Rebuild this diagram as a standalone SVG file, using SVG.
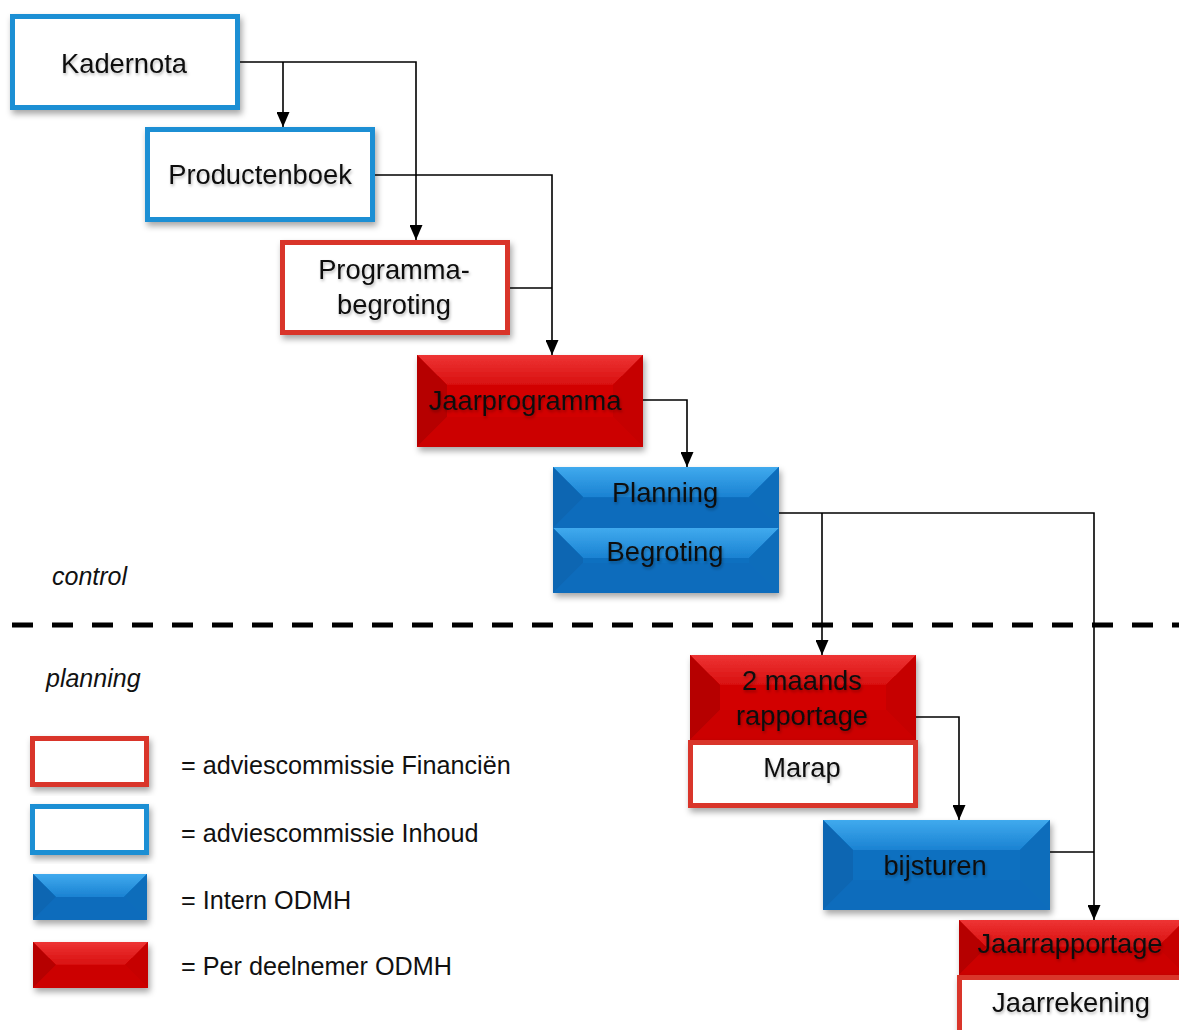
<svg xmlns="http://www.w3.org/2000/svg" width="1179" height="1030" viewBox="0 0 1179 1030">
<defs>
<style>
text{font-family:"Liberation Sans",Arial,sans-serif;fill:#111;}
.t{font-size:27.3px;text-anchor:middle;filter:url(#ts);}
.leg{font-size:25.2px;}
.it{font-size:25px;font-style:italic;}
.ob{fill:#fff;stroke:#1b8fd4;stroke-width:5;}
.or{fill:#fff;stroke:#d9352b;stroke-width:5;}
.bf{fill:#0a6fc0;} .bt{fill:url(#gbt);} .bl{fill:#0966b2;} .br{fill:#0b6dbb;} .bb{fill:#0a6cbc;}
.rf{fill:#d20000;} .rt{fill:url(#grt);} .rl{fill:#b60000;} .rr{fill:#c60000;} .rb{fill:#cc0000;}
.c{fill:none;stroke:#000;stroke-width:1.6;}
.ca{fill:none;stroke:#000;stroke-width:1.6;marker-end:url(#ah);}
.sh{filter:url(#ds);}
</style>
<linearGradient id="gbt" x1="0" y1="0" x2="0" y2="1"><stop offset="0" stop-color="#40aaee"/><stop offset="1" stop-color="#1a82d2"/></linearGradient>
<linearGradient id="grt" x1="0" y1="0" x2="0" y2="1"><stop offset="0" stop-color="#ee3434"/><stop offset="1" stop-color="#d81010"/></linearGradient>
<filter id="ds" x="-10%" y="-10%" width="125%" height="135%"><feDropShadow dx="2" dy="4" stdDeviation="3" flood-color="#000" flood-opacity="0.35"/></filter>
<filter id="ts" x="-10%" y="-20%" width="125%" height="160%"><feDropShadow dx="1" dy="2" stdDeviation="1.5" flood-color="#000" flood-opacity="0.28"/></filter>
<marker id="ah" markerUnits="userSpaceOnUse" markerWidth="15" markerHeight="13" refX="15" refY="6.5" orient="auto"><path d="M0,0 L15,6.5 L0,13 z" fill="#000"/></marker>
</defs>
<rect width="1179" height="1030" fill="#fff"/>

<g id="connectors">
<path class="ca" d="M240,62 H416 V240"/>
<path class="ca" d="M283,62 V127"/>
<path class="ca" d="M375,175 H552 V355"/>
<path class="c" d="M510,288 H552"/>
<path class="ca" d="M643,400 H687 V467"/>
<path class="ca" d="M779,513 H1094 V920"/>
<path class="ca" d="M822,513 V655"/>
<path class="ca" d="M916,717 H959 V820"/>
<path class="c" d="M1050,852 H1094"/>
</g>

<g id="divider">
<line x1="12" y1="625" x2="1179" y2="625" stroke="#000" stroke-width="5" stroke-dasharray="21 19"/>
<text class="it" x="52" y="585">control</text>
<text class="it" x="46" y="687">planning</text>
</g>

<g id="kadernota">
<rect class="ob sh" x="12.5" y="16.5" width="225" height="91"/>
<text class="t" x="124" y="73">Kadernota</text>
</g>

<g id="productenboek">
<rect class="ob sh" x="147.5" y="129.5" width="225" height="90"/>
<text class="t" x="260" y="184">Productenboek</text>
</g>

<g id="programmabegroting">
<rect class="or sh" x="282.5" y="242.5" width="225" height="90"/>
<text class="t" x="394" y="279">Programma-</text>
<text class="t" x="394" y="314">begroting</text>
</g>

<g id="jaarprogramma">
<g class="sh">
<rect class="rf" x="417" y="355" width="226" height="92"/>
<polygon class="rt" points="417,355 643,355 613,385 447,385"/>
<polygon class="rl" points="417,355 447,385 447,417 417,447"/>
<polygon class="rr" points="643,355 643,447 613,417 613,385"/>
<polygon class="rb" points="417,447 643,447 613,417 447,417"/>
</g>
<text class="t" x="525" y="410">Jaarprogramma</text>
</g>

<g id="planning-begroting">
<g class="sh">
<rect class="bf" x="553" y="467" width="226" height="126"/>
<polygon class="bt" points="553,467 779,467 749,497 583,497"/>
<polygon class="bl" points="553,467 583,497 583,498 553,528"/>
<polygon class="br" points="779,467 779,528 749,498 749,497"/>
<polygon class="bb" points="553,528 779,528 749,498 583,498"/>
<polygon class="bt" points="553,528 779,528 749,558 583,558"/>
<polygon class="bl" points="553,528 583,558 583,563 553,593"/>
<polygon class="br" points="779,528 779,593 749,563 749,558"/>
<polygon class="bb" points="553,593 779,593 749,563 583,563"/>
</g>
<text class="t" x="665" y="502">Planning</text>
<text class="t" x="665" y="561">Begroting</text>
</g>

<g id="maandsrapportage">
<g class="sh">
<rect class="rf" x="690" y="655" width="226" height="85"/>
<polygon class="rt" points="690,655 916,655 886,685 720,685"/>
<polygon class="rl" points="690,655 720,685 720,710 690,740"/>
<polygon class="rr" points="916,655 916,740 886,710 886,685"/>
<polygon class="rb" points="690,740 916,740 886,710 720,710"/>
</g>
<text class="t" x="802" y="690">2 maands</text>
<text class="t" x="802" y="725">rapportage</text>
</g>

<g id="marap">
<rect class="or sh" x="690.5" y="742.5" width="225" height="63"/>
<text class="t" x="802" y="777">Marap</text>
</g>

<g id="bijsturen">
<g class="sh">
<rect class="bf" x="823" y="820" width="227" height="90"/>
<polygon class="bt" points="823,820 1050,820 1020,850 853,850"/>
<polygon class="bl" points="823,820 853,850 853,880 823,910"/>
<polygon class="br" points="1050,820 1050,910 1020,880 1020,850"/>
<polygon class="bb" points="823,910 1050,910 1020,880 853,880"/>
</g>
<text class="t" x="935" y="875">bijsturen</text>
</g>

<g id="jaarrapportage">
<g class="sh">
<rect class="rf" x="959" y="920" width="226" height="55"/>
<polygon class="rt" points="959,920 1185,920 1158,947 986,947"/>
<polygon class="rl" points="959,920 986,947 986,948 959,975"/>
<polygon class="rr" points="1185,920 1185,975 1158,948 1158,947"/>
<polygon class="rb" points="959,975 1185,975 1158,948 986,948"/>
</g>
<text class="t" x="1070" y="953">Jaarrapportage</text>
</g>

<g id="jaarrekening">
<rect class="or sh" x="959.5" y="977.5" width="225" height="60"/>
<text class="t" x="1071" y="1012">Jaarrekening</text>
</g>

<g id="legend">
<rect class="or sh" x="32.5" y="738.5" width="114" height="46"/>
<text class="leg" x="181" y="774">= adviescommissie Financiën</text>
<rect class="ob sh" x="32.5" y="806.5" width="114" height="46"/>
<text class="leg" x="181" y="842">= adviescommissie Inhoud</text>
<g class="sh">
<rect class="bf" x="33" y="874" width="114" height="46"/>
<polygon class="bt" points="33,874 147,874 124,897 56,897"/>
<polygon class="bl" points="33,874 56,897 33,920"/>
<polygon class="br" points="147,874 147,920 124,897"/>
<polygon class="bb" points="33,920 147,920 124,897 56,897"/>
</g>
<text class="leg" x="181" y="909">= Intern ODMH</text>
<g class="sh">
<rect class="rf" x="33" y="942" width="115" height="46"/>
<polygon class="rt" points="33,942 148,942 125,965 56,965"/>
<polygon class="rl" points="33,942 56,965 33,988"/>
<polygon class="rr" points="148,942 148,988 125,965"/>
<polygon class="rb" points="33,988 148,988 125,965 56,965"/>
</g>
<text class="leg" x="181" y="975">= Per deelnemer ODMH</text>
</g>
</svg>
